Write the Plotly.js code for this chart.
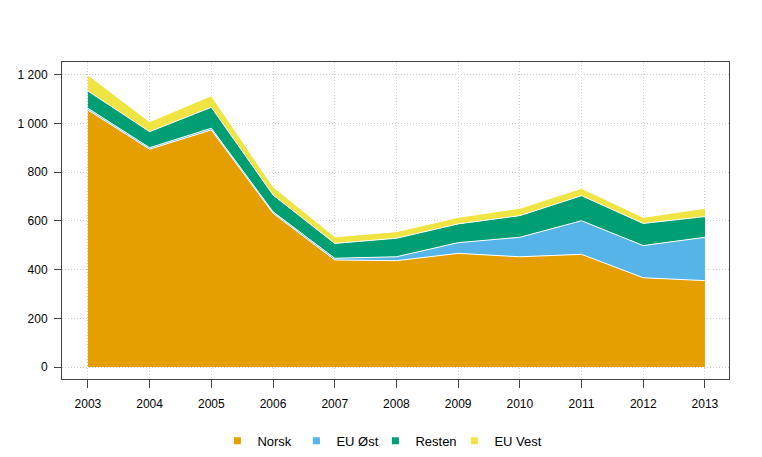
<!DOCTYPE html>
<html><head><meta charset="utf-8">
<script src="https://cdn.plot.ly/plotly-3.0.1.min.js"></script>
<style>html,body{margin:0;padding:0;background:#fff}#c{width:762px;height:457px}</style>
</head><body><div id="c"></div>
<script>
const years = [2003,2004,2005,2006,2007,2008,2009,2010,2011,2012,2013];
const norsk  = [1056,895,974,632,440,437,467,453,463,367,355];
const euOst  = [7,6,7,6,7,16,44,80,138,132,178];
const resten = [71,66,86,69,61,76,77,89,103,91,85];
const euVest = [66,41,47,34,27,27,27,30,30,25,34];
const yTickVals = [0,200,400,600,800,1000,1200];
const yTickText = ["0","200","400","600","800","1 000","1 200"];

const series = [
  {name:"Norsk", y:norsk, color:"#E69F00"},
  {name:"EU Øst", y:euOst, color:"#56B4E9"},
  {name:"Resten", y:resten, color:"#009E73"},
  {name:"EU Vest", y:euVest, color:"#F0E442"}
];
const data = series.map(s => ({
  type:"scatter", mode:"lines", x:years, y:s.y, name:s.name,
  stackgroup:"one", fillcolor:s.color, showlegend:false,
  line:{color:"#ffffff", width:1}
}));
series.forEach(s => data.push({
  type:"scatter", mode:"markers", x:[null], y:[null], name:s.name,
  marker:{symbol:"square", size:7, color:s.color}, showlegend:true
}));
// spacer entry so the last legend label is not clipped
data.push({type:"scatter", mode:"markers", x:[null], y:[null], name:" ",
  marker:{symbol:"square", size:7, color:"rgba(0,0,0,0)"}, showlegend:true});
const axisCommon = {
  showline:true, mirror:true, linecolor:"#444", linewidth:1,
  ticks:"outside", tickcolor:"#444",
  showgrid:true, gridcolor:"#cfcfcf", griddash:"1px,2px", gridwidth:1,
  zeroline:false, tickfont:{size:12, color:"#000"}
};
const layout = {
  width:762, height:457,
  margin:{l:62, r:33, t:62, b:78, autoexpand:false},
  paper_bgcolor:"#fff", plot_bgcolor:"#fff",
  font:{family:"Liberation Sans, Arial, sans-serif", size:12, color:"#000"},
  xaxis:Object.assign({}, axisCommon, {range:[2002.58,2013.39], tickvals:years, ticktext:years.map(String), ticklen:8, ticklabelstandoff:6}),
  yaxis:Object.assign({}, axisCommon, {range:[-49,1253], tickvals:yTickVals, ticktext:yTickText, ticklen:7, ticklabelstandoff:4}),
  showlegend:true,
  legend:{orientation:"h", x:0.233, xanchor:"left", y:-0.195, yanchor:"middle", traceorder:"normal",
          font:{size:13}, entrywidth:34, entrywidthmode:"pixels", itemwidth:30}
};
Plotly.newPlot("c", data, layout, {displayModeBar:false, staticPlot:true});
</script></body></html>
